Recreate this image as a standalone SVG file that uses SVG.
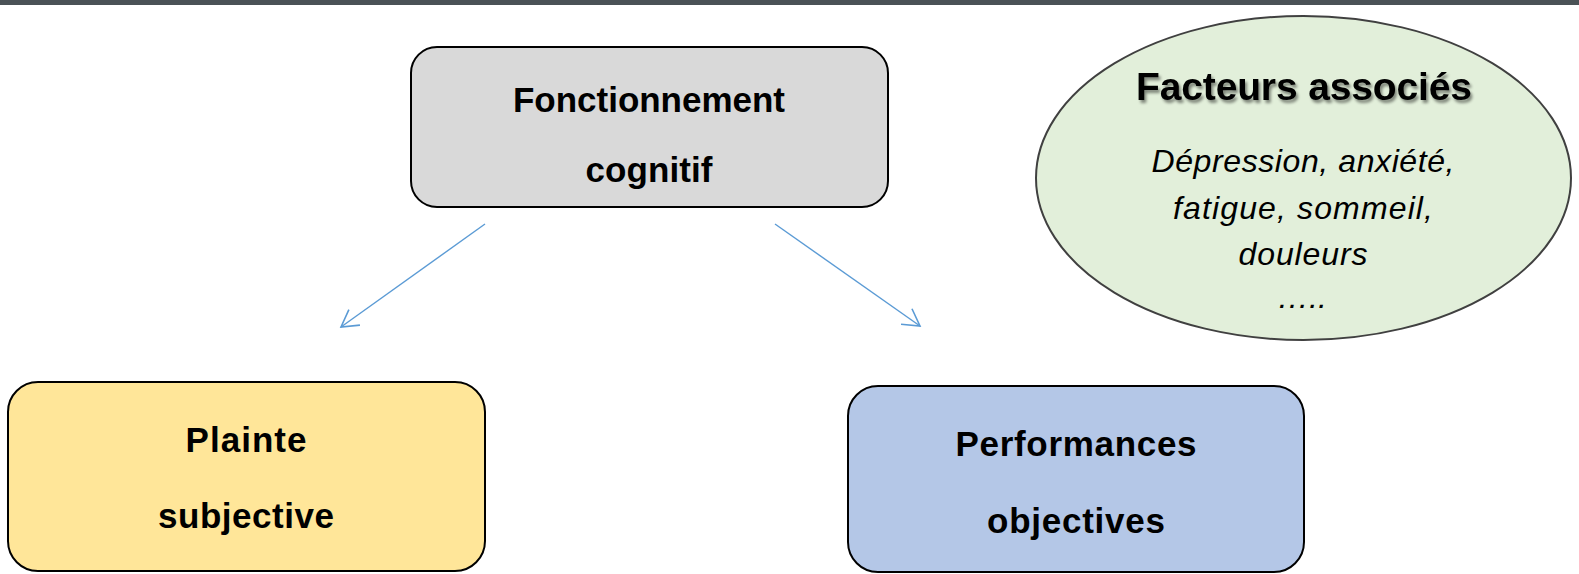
<svg xmlns="http://www.w3.org/2000/svg" width="1579" height="574" viewBox="0 0 1579 574">
  <style>
    .box { stroke: #000; stroke-width: 2; }
    .lbl { font-family: "Liberation Sans", Arial, sans-serif; font-weight: bold; font-size: 35px; fill: #000; text-anchor: middle; }
    .title { font-family: "Liberation Sans", Arial, sans-serif; font-weight: bold; font-size: 39px; fill: #000; text-anchor: middle; }
    .it { font-family: "Liberation Sans", Arial, sans-serif; font-style: italic; font-size: 32px; fill: #000; text-anchor: middle; }
    .conn { stroke: #5b9bd5; stroke-width: 1.4; fill: none; }
  </style>
  <defs>
    <marker id="arr" markerUnits="userSpaceOnUse" markerWidth="40" markerHeight="40" viewBox="-20 -20 40 40" refX="0" refY="0" orient="auto" overflow="visible">
      <path d="M-16.5,-9.5 L0,0 L-16.5,9.5" fill="none" stroke="#5b9bd5" stroke-width="1.6"/>
    </marker>
    <filter id="shadow" x="-10%" y="-30%" width="120%" height="160%">
      <feGaussianBlur in="SourceAlpha" stdDeviation="1.8"/>
      <feOffset dx="2" dy="3" result="b"/>
      <feComponentTransfer><feFuncA type="linear" slope="0.45"/></feComponentTransfer>
      <feMerge><feMergeNode/><feMergeNode in="SourceGraphic"/></feMerge>
    </filter>
  </defs>
  <rect width="1579" height="574" fill="#ffffff"/>
  <rect x="0" y="0" width="1579" height="5" fill="#4a5256"/>

  <g id="connectors">
    <line class="conn" x1="485" y1="224" x2="341" y2="327" marker-end="url(#arr)"/>
    <line class="conn" x1="775" y1="224" x2="920" y2="326" marker-end="url(#arr)"/>
  </g>

  <g id="node-fonctionnement">
    <rect class="box" x="411" y="47" width="477" height="160" rx="26" fill="#d9d9d9"/>
    <text class="lbl" x="649" y="112" textLength="272" lengthAdjust="spacing">Fonctionnement</text>
    <text class="lbl" x="649" y="182" textLength="127" lengthAdjust="spacing">cognitif</text>
  </g>

  <g id="node-plainte">
    <rect class="box" x="8" y="382" width="477" height="189" rx="30" fill="#ffe699"/>
    <text class="lbl" x="246" y="452" textLength="121" lengthAdjust="spacing">Plainte</text>
    <text class="lbl" x="246" y="528" textLength="176" lengthAdjust="spacing">subjective</text>
  </g>

  <g id="node-performances">
    <rect class="box" x="848" y="386" width="456" height="186" rx="30" fill="#b4c7e7"/>
    <text class="lbl" x="1076" y="456" textLength="241" lengthAdjust="spacing">Performances</text>
    <text class="lbl" x="1076" y="533" textLength="178" lengthAdjust="spacing">objectives</text>
  </g>

  <g id="node-facteurs">
    <ellipse cx="1303.5" cy="178" rx="267.5" ry="162" fill="#e2efda" stroke="#404040" stroke-width="2"/>
    <text class="title" x="1304" y="100" textLength="336" lengthAdjust="spacing" filter="url(#shadow)">Facteurs associés</text>
    <text class="it" x="1303" y="172" textLength="303" lengthAdjust="spacing">Dépression, anxiété,</text>
    <text class="it" x="1303" y="219" textLength="260" lengthAdjust="spacing">fatigue, sommeil,</text>
    <text class="it" x="1303" y="265" textLength="129" lengthAdjust="spacing">douleurs</text>
    <text class="it" x="1302" y="308">…..</text>
  </g>
</svg>
